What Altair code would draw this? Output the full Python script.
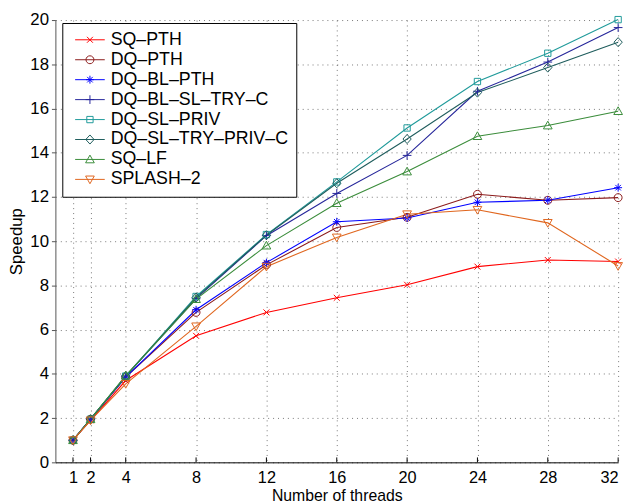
import altair as alt
import pandas as pd

threads = [1, 2, 4, 8, 12, 16, 20, 24, 28, 32]
series_names = [
    "SQ–PTH", "DQ–PTH", "DQ–BL–PTH", "DQ–BL–SL–TRY–C",
    "DQ–SL–PRIV", "DQ–SL–TRY–PRIV–C", "SQ–LF", "SPLASH–2",
]
sq_pth = [1.0, 1.9, 3.7, 5.72, 6.78, 7.44, 8.03, 8.85, 9.15, 9.08]
dq_pth = [1.0, 1.95, 3.85, 6.78, 8.93, 10.62, 11.08, 12.12, 11.85, 11.97]
dq_bl_pth = [1.0, 1.95, 3.85, 6.9, 9.03, 10.88, 11.05, 11.76, 11.85, 12.42]
dq_bl_sl_try_c = [1.0, 1.95, 3.9, 7.4, 10.25, 12.16, 13.88, 16.78, 18.1, 19.66]
dq_sl_priv = [1.0, 1.95, 3.9, 7.5, 10.3, 12.68, 15.12, 17.22, 18.5, 20.02]
dq_sl_try_priv_c = [1.0, 1.95, 3.9, 7.45, 10.27, 12.62, 14.62, 16.72, 17.85, 19.0]
sq_lf = [1.0, 1.95, 3.92, 7.38, 9.8, 11.72, 13.15, 14.75, 15.23, 15.88]
splash2 = [1.0, 1.9, 3.55, 6.15, 8.85, 10.17, 11.22, 11.42, 10.83, 8.88]
y_ticks = [0, 2, 4, 6, 8, 10, 12, 14, 16, 18, 20]

colors = ["#ff0000", "#8b1a1a", "#0000ff", "#25259a",
          "#1f9a9a", "#1e5c5c", "#3a8c3a", "#e0661e"]

all_values = [sq_pth, dq_pth, dq_bl_pth, dq_bl_sl_try_c,
              dq_sl_priv, dq_sl_try_priv_c, sq_lf, splash2]

rows = []
for name, vals in zip(series_names, all_values):
    for t, v in zip(threads, vals):
        rows.append({"threads": t, "series": name, "speedup": v})
df = pd.DataFrame(rows)
ticks_df = pd.DataFrame({"threads": threads})


def f(v):
    return f"{v:.3f}"


def marker(kind, cx=0.0):
    if kind == "x":
        r = 0.75
        return (f"M{f(cx-r)},{f(-r)}L{f(cx+r)},{f(r)}"
                f"M{f(cx-r)},{f(r)}L{f(cx+r)},{f(-r)}")
    if kind == "circle":
        return (f"M{f(cx+1)},0A1,1 0 1,1 {f(cx-1)},0"
                f"A1,1 0 1,1 {f(cx+1)},0Z")
    if kind == "star":
        d = 0.7
        return (f"M{f(cx-1)},0L{f(cx+1)},0M{f(cx)},-1L{f(cx)},1"
                f"M{f(cx-d)},{f(-d)}L{f(cx+d)},{f(d)}"
                f"M{f(cx-d)},{f(d)}L{f(cx+d)},{f(-d)}")
    if kind == "plus":
        return f"M{f(cx-1.1)},0L{f(cx+1.1)},0M{f(cx)},-1.1L{f(cx)},1.1"
    if kind == "square":
        r = 0.8
        return (f"M{f(cx-r)},{f(-r)}L{f(cx+r)},{f(-r)}"
                f"L{f(cx+r)},{f(r)}L{f(cx-r)},{f(r)}Z")
    if kind == "diamond":
        return (f"M{f(cx)},-1.15L{f(cx+1.05)},0L{f(cx)},1.15"
                f"L{f(cx-1.05)},0Z")
    if kind == "tri-up":
        return f"M{f(cx)},-1.1L{f(cx+1.1)},0.85L{f(cx-1.1)},0.85Z"
    if kind == "tri-down":
        return f"M{f(cx)},1.1L{f(cx+1.1)},-0.85L{f(cx-1.1)},-0.85Z"
    return ""


kinds = ["x", "circle", "star", "plus", "square", "diamond", "tri-up", "tri-down"]
plot_shapes = [marker(k) for k in kinds]
legend_shapes = ["M-1,0L6.5,0" + marker(k, 2.75) for k in kinds]

FONT = "Liberation Sans"
W, H = 570, 448

x_enc = alt.X("threads:Q", scale=alt.Scale(domain=[0, 32], nice=False),
              axis=alt.Axis(values=threads, title="Number of threads",
                            ticks=False, tickSize=0, labelPadding=7,
                            labelFontSize=16.5, titleFontSize=16,
                            titlePadding=2, grid=True))
y_enc = alt.Y("speedup:Q", scale=alt.Scale(domain=[0, 20], nice=False),
              axis=alt.Axis(values=y_ticks, title="Speedup", tickSize=4,
                            labelPadding=3, titlePadding=4, grid=True,
                            domainColor="#555555", tickColor="#555555"))

base = alt.Chart(df)

lines = base.mark_line(strokeWidth=1.1).encode(
    x=x_enc, y=y_enc,
    color=alt.Color("series:N", scale=alt.Scale(domain=series_names, range=colors),
                    legend=None),
    order=alt.Order("threads:Q"),
)

points = base.mark_point(filled=False, size=64, strokeWidth=1, opacity=1).encode(
    x=x_enc, y=y_enc,
    color=alt.Color("series:N", scale=alt.Scale(domain=series_names, range=colors),
                    legend=None),
    shape=alt.Shape("series:N", scale=alt.Scale(domain=series_names, range=plot_shapes),
                    legend=None),
)

legend_spec = alt.Legend(
    title=None, orient="none", legendX=7, legendY=3,
    fillColor="white", strokeColor="black", padding=8,
    labelFont=FONT, labelFontSize=18, labelOffset=23, labelColor="black",
    symbolSize=64, symbolStrokeWidth=1, rowPadding=2.2, labelLimit=400,
)

legend_layer = base.transform_calculate(series2="datum.series").transform_filter(
    "datum.threads < 0"
).mark_point(filled=False, size=64, strokeWidth=1, opacity=1).encode(
    x=x_enc, y=y_enc,
    color=alt.Color("series2:N", scale=alt.Scale(domain=series_names, range=colors),
                    legend=legend_spec),
    shape=alt.Shape("series2:N", scale=alt.Scale(domain=series_names, range=legend_shapes),
                    legend=legend_spec),
)

xticks = alt.Chart(ticks_df).mark_rule(color="black", strokeWidth=1).encode(
    x=alt.X("threads:Q"), y=alt.value(H), y2=alt.value(H - 5)
)

chart = alt.layer(lines, points, xticks, legend_layer).resolve_scale(
    shape="independent", color="independent"
).properties(
    width=W, height=H,
    autosize=alt.AutoSizeParams(type="none"),
    padding={"left": 48, "top": 9, "right": 10, "bottom": 40},
).configure_view(stroke="transparent").configure_axis(
    labelFont=FONT, titleFont=FONT, labelFontSize=17, titleFontSize=17,
    labelColor="black", titleColor="black", titleFontWeight="normal",
    domainColor="black", domainWidth=1,
    gridColor="#555555", gridDash=[1, 4], gridWidth=1, gridOpacity=0.8,
)

chart.save("out.html", embed_options={"renderer": "svg", "actions": False})
